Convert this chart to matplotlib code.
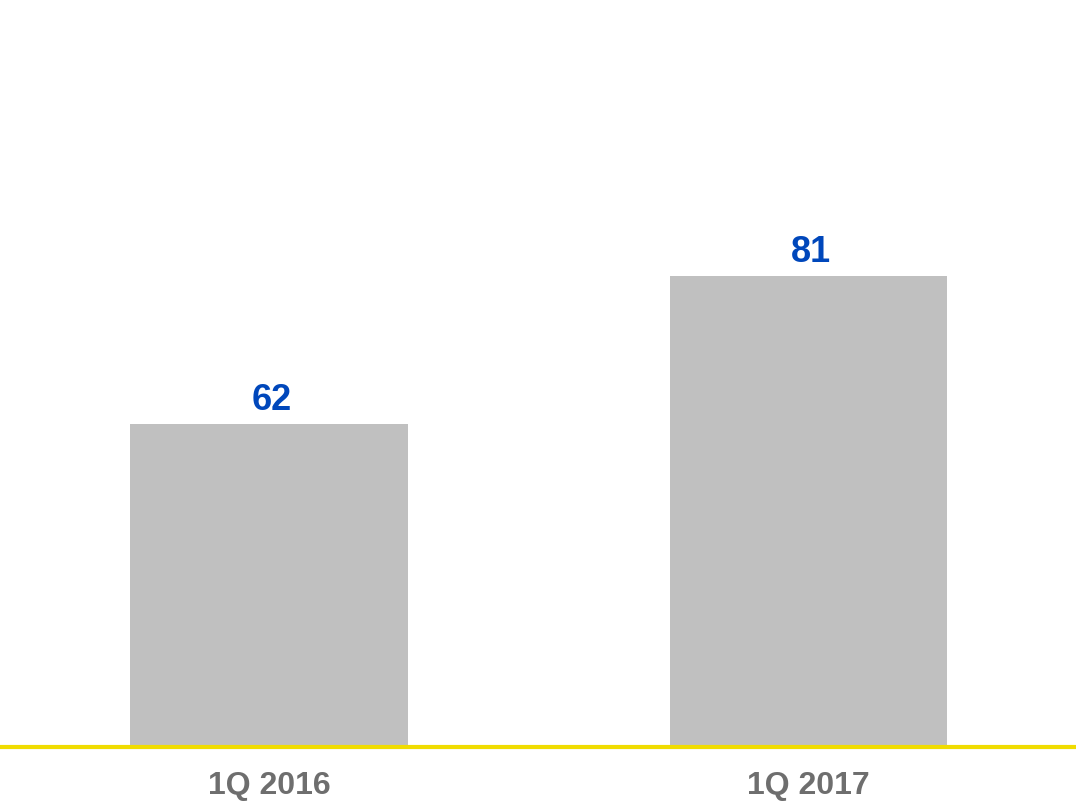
import matplotlib
matplotlib.use("Agg")
import matplotlib.pyplot as plt
from matplotlib.lines import Line2D

categories = ["1Q 2016", "1Q 2017"]
values = [62, 81]

W, H = 1076, 804
fig = plt.figure(figsize=(W / 100, H / 100), dpi=100)
plt.rcParams['font.family'] = ['Liberation Sans', 'DejaVu Sans']

ax_bottom_px = 746
ax = fig.add_axes([0, (H - ax_bottom_px) / H, 1, ax_bottom_px / H])
x = list(range(len(categories)))
ax.bar(x, values, width=0.515, color="#C0C0C0", zorder=2)
ax.set_xlim(-0.4986, 1.4958)
ax.set_ylim(20.8, 116.6)

for xi, v in zip(x, values):
    ax.annotate(str(v), (xi, v), xytext=(2, 5), textcoords="offset points",
                ha="center", va="bottom", fontsize=26, fontweight="bold",
                color="#0047BB")

ax.set_xticks(x)
ax.set_xticklabels(categories, fontsize=23, fontweight="bold", color="#6E6E6E")
ax.tick_params(axis="x", length=0, pad=18)
ax.set_yticks([])
for s in ax.spines.values():
    s.set_visible(False)

yl = (H - 748) / H
fig.add_artist(Line2D([0, 1], [yl, yl], transform=fig.transFigure,
                      color="#F0DC00", linewidth=3.0, solid_capstyle="butt"))

fig.savefig("out.png", dpi=100)
